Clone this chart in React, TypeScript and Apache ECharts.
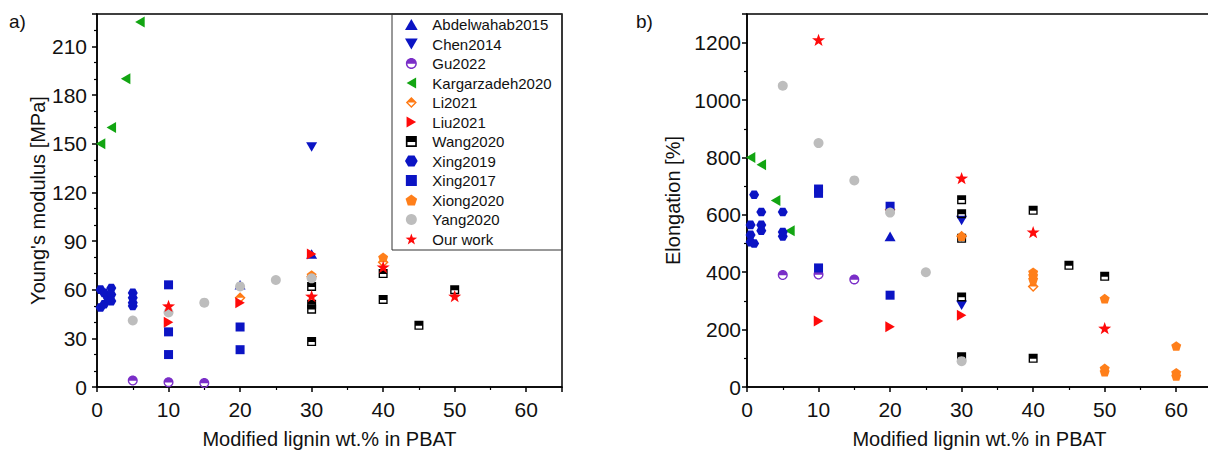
import React, { useEffect, useRef } from "react";
import * as echarts from "echarts";

// ---------- series names (legend order) ----------
const seriesNames = [
  "Abdelwahab2015",
  "Chen2014",
  "Gu2022",
  "Kargarzadeh2020",
  "Li2021",
  "Liu2021",
  "Wang2020",
  "Xing2019",
  "Xing2017",
  "Xiong2020",
  "Yang2020",
  "Our work",
];

// ---------- panel a) Young's modulus [MPa] ----------
const ymAbdelwahabX = [20, 30];
const ymAbdelwahabY = [63, 82];
const ymChenX = [30];
const ymChenY = [148];
const ymGuX = [5, 10, 15];
const ymGuY = [4, 3, 2.5];
const ymKargarzadehX = [0.5, 2, 4, 6];
const ymKargarzadehY = [150, 160, 190, 225];
const ymLiX = [20, 30, 40];
const ymLiY = [55, 68, 77];
const ymLiuX = [10, 20, 30];
const ymLiuY = [40, 52, 82];
const ymWangX = [30, 30, 30, 30, 40, 40, 45, 50];
const ymWangY = [62, 51, 48, 28, 70, 54, 38, 60];
const ymXing2019X = [0.5, 0.5, 1, 1, 1.5, 2, 2, 2, 5, 5, 5, 5];
const ymXing2019Y = [60, 49, 58, 51, 55, 61, 57, 53, 58, 55, 52, 50];
const ymXing2017X = [10, 10, 10, 20, 20];
const ymXing2017Y = [63, 34, 20, 37, 23];
const ymXiongX = [30, 40];
const ymXiongY = [69, 80];
const ymYangX = [5, 10, 15, 20, 25, 30];
const ymYangY = [41, 46, 52, 62, 66, 67];
const ymOursX = [10, 30, 40, 50];
const ymOursY = [50, 56, 74, 56];

// ---------- panel b) Elongation [%] ----------
const elAbdelwahabX = [20];
const elAbdelwahabY = [525];
const elChenX = [30, 30];
const elChenY = [580, 285];
const elGuX = [5, 10, 15];
const elGuY = [390, 392, 375];
const elKargarzadehX = [0.5, 2, 4, 6];
const elKargarzadehY = [800, 775, 650, 545];
const elLiX = [20, 30, 40];
const elLiY = [618, 525, 350];
const elLiuX = [10, 20, 30];
const elLiuY = [230, 210, 250];
const elWangX = [30, 30, 30, 30, 30, 40, 40, 45, 50];
const elWangY = [653, 604, 518, 314, 105, 616, 100, 424, 386];
const elXing2019X = [0.5, 0.5, 0.5, 1, 1, 2, 2, 2, 5, 5, 5];
const elXing2019Y = [565, 530, 505, 670, 500, 610, 565, 545, 610, 540, 525];
const elXing2017X = [10, 10, 10, 20, 20];
const elXing2017Y = [690, 675, 415, 630, 320];
const elXiongX = [30, 40, 40, 40, 50, 50, 50, 60, 60, 60];
const elXiongY = [525, 400, 388, 375, 308, 65, 53, 143, 50, 38];
const elYangX = [5, 10, 15, 20, 25, 30];
const elYangY = [1050, 850, 720, 608, 400, 90];
const elOursX = [10, 30, 40, 50];
const elOursY = [1210, 728, 540, 205];

// ---------- tick settings ----------
const xTickStep = 10;
const ymTickStep = 30;
const elTickStep = 200;

// ---------- symbols ----------
const SYM = {
  up: "path://M10 0 L20 17.32 L0 17.32 Z",
  down: "path://M0 0 L20 0 L10 17.32 Z",
  left: "path://M0 10 L17.32 0 L17.32 20 Z",
  right: "path://M0 0 L17.32 10 L0 20 Z",
  halfCircle:
    "path://M10 0 C15.52 0 20 4.48 20 10 C20 15.52 15.52 20 10 20 C4.48 20 0 15.52 0 10 C0 4.48 4.48 0 10 0 Z " +
    "M10 2.6 C5.91 2.6 2.6 5.91 2.6 10 C2.6 14.09 5.91 17.4 10 17.4 C14.09 17.4 17.4 14.09 17.4 10 C17.4 5.91 14.09 2.6 10 2.6 Z " +
    "M2.6 10.5 L2.6 10 C2.6 5.91 5.91 2.6 10 2.6 C14.09 2.6 17.4 5.91 17.4 10 L17.4 10.5 Z",
  halfSquare:
    "path://M0 0 L20 0 L20 20 L0 20 Z M3 3 L3 17 L17 17 L17 3 Z M3 3 L17 3 L17 11 L3 11 Z",
  halfDiamond:
    "path://M10 0 L20 10 L10 20 L0 10 Z M10 3.6 L3.6 10 L10 16.4 L16.4 10 Z M3.6 10 L10 3.6 L16.4 10 Z",
  hexagon: "path://M5 0 L15 0 L20 8.66 L15 17.32 L5 17.32 L0 8.66 Z",
  square: "path://M0 0 L20 0 L20 20 L0 20 Z",
  pentagon: "path://M10 0 L19.51 6.91 L15.88 18.09 L4.12 18.09 L0.49 6.91 Z",
  circle: "circle",
  star:
    "path://M10 0 L12.35 6.76 L19.51 6.91 L13.8 11.24 L15.88 18.09 L10 14 L4.12 18.09 L6.2 11.24 L0.49 6.91 L7.65 6.76 Z",
};

const BLUE = "#0b14c4";
const styles: Record<string, { symbol: string; size: number; color: string }> = {
  Abdelwahab2015: { symbol: SYM.up, size: 11, color: BLUE },
  Chen2014: { symbol: SYM.down, size: 11, color: BLUE },
  Gu2022: { symbol: SYM.halfCircle, size: 10, color: "#7a2ec8" },
  Kargarzadeh2020: { symbol: SYM.left, size: 11, color: "#12a512" },
  Li2021: { symbol: SYM.halfDiamond, size: 11, color: "#ff7a14" },
  Liu2021: { symbol: SYM.right, size: 11, color: "#ff0a0a" },
  Wang2020: { symbol: SYM.halfSquare, size: 9, color: "#000000" },
  Xing2019: { symbol: SYM.hexagon, size: 10, color: BLUE },
  Xing2017: { symbol: SYM.square, size: 9, color: BLUE },
  Xiong2020: { symbol: SYM.pentagon, size: 10, color: "#ff7f1a" },
  Yang2020: { symbol: SYM.circle, size: 10, color: "#bdbdbd" },
  "Our work": { symbol: SYM.star, size: 13, color: "#ff0a0a" },
};

const ymData: Record<string, [number[], number[]]> = {
  Abdelwahab2015: [ymAbdelwahabX, ymAbdelwahabY],
  Chen2014: [ymChenX, ymChenY],
  Gu2022: [ymGuX, ymGuY],
  Kargarzadeh2020: [ymKargarzadehX, ymKargarzadehY],
  Li2021: [ymLiX, ymLiY],
  Liu2021: [ymLiuX, ymLiuY],
  Wang2020: [ymWangX, ymWangY],
  Xing2019: [ymXing2019X, ymXing2019Y],
  Xing2017: [ymXing2017X, ymXing2017Y],
  Xiong2020: [ymXiongX, ymXiongY],
  Yang2020: [ymYangX, ymYangY],
  "Our work": [ymOursX, ymOursY],
};

const elData: Record<string, [number[], number[]]> = {
  Abdelwahab2015: [elAbdelwahabX, elAbdelwahabY],
  Chen2014: [elChenX, elChenY],
  Gu2022: [elGuX, elGuY],
  Kargarzadeh2020: [elKargarzadehX, elKargarzadehY],
  Li2021: [elLiX, elLiY],
  Liu2021: [elLiuX, elLiuY],
  Wang2020: [elWangX, elWangY],
  Xing2019: [elXing2019X, elXing2019Y],
  Xing2017: [elXing2017X, elXing2017Y],
  Xiong2020: [elXiongX, elXiongY],
  Yang2020: [elYangX, elYangY],
  "Our work": [elOursX, elOursY],
};

const FONT = "'Liberation Sans', Arial, sans-serif";
const TXT = "#111111";

function zip(xs: number[], ys: number[]) {
  return xs.map((x, i) => [x, ys[i]]);
}

const plainNum = (v: number) => String(v);

function makeXAxis(gridIndex: number) {
  return {
    gridIndex,
    type: "value",
    min: 0,
    max: 65,
    interval: xTickStep,
    name: "Modified lignin wt.% in PBAT",
    nameLocation: "middle",
    nameGap: 42,
    nameTextStyle: { fontSize: 20, color: TXT, fontFamily: FONT },
    axisLine: { show: true, onZero: false, lineStyle: { color: "#000", width: 1.5 } },
    axisTick: { show: true, inside: false, length: 5, lineStyle: { color: "#000", width: 1.5 } },
    minorTick: { show: true, splitNumber: 2, length: 3, lineStyle: { color: "#000", width: 1.2 } },
    splitLine: { show: false },
    axisLabel: {
      fontSize: 21,
      color: TXT,
      fontFamily: FONT,
      margin: 12,
      showMaxLabel: false,
      formatter: plainNum,
    },
  };
}

function makeYAxis(
  gridIndex: number,
  max: number,
  interval: number,
  minorSplit: number,
  name: string,
  nameGap: number,
  margin: number
) {
  return {
    gridIndex,
    type: "value",
    min: 0,
    max,
    interval,
    name,
    nameLocation: "middle",
    nameGap,
    nameTextStyle: { fontSize: 20, color: TXT, fontFamily: FONT },
    axisLine: { show: true, onZero: false, lineStyle: { color: "#000", width: 1.5 } },
    axisTick: { show: true, inside: false, length: 5, lineStyle: { color: "#000", width: 1.5 } },
    minorTick: { show: true, splitNumber: minorSplit, length: 3, lineStyle: { color: "#000", width: 1.2 } },
    splitLine: { show: false },
    axisLabel: {
      fontSize: 21,
      color: TXT,
      fontFamily: FONT,
      margin,
      showMaxLabel: false,
      formatter: plainNum,
    },
  };
}

export default function App() {
  const ref = useRef<HTMLDivElement>(null);

  useEffect(() => {
    if (!ref.current) return;
    const chart = echarts.init(ref.current, null, { renderer: "svg" });

    const series: any[] = [];
    seriesNames.forEach((name) => {
      const st = styles[name];
      [ymData, elData].forEach((src, idx) => {
        const [xs, ys] = src[name];
        series.push({
          type: "scatter",
          name,
          xAxisIndex: idx,
          yAxisIndex: idx,
          symbol: st.symbol,
          symbolSize: st.size,
          symbolKeepAspect: true,
          itemStyle: { color: st.color, opacity: 1 },
          emphasis: { disabled: true },
          data: zip(xs, ys),
        });
      });
    });

    const option: any = {
      animation: false,
      backgroundColor: "#ffffff",
      textStyle: { fontFamily: FONT },
      grid: [
        {
          left: 97,
          top: 14,
          right: 1208 - 562,
          bottom: 455 - 387,
          show: true,
          borderColor: "#000",
          borderWidth: 1.5,
          containLabel: false,
          outerBoundsMode: "none",
        },
        {
          left: 747,
          top: 14,
          right: -4,
          bottom: 455 - 387,
          show: true,
          borderColor: "#000",
          borderWidth: 1.5,
          containLabel: false,
          outerBoundsMode: "none",
        },
      ],
      xAxis: [makeXAxis(0), makeXAxis(1)],
      yAxis: [
        makeYAxis(0, 230, ymTickStep, 3, "Young's modulus [MPa]", 49, 10),
        makeYAxis(1, 1300, elTickStep, 2, "Elongation [%]", 64, 6),
      ],
      legend: {
        show: true,
        orient: "vertical",
        left: 405,
        top: 17,
        padding: 0,
        itemWidth: 32,
        itemHeight: 11,
        itemGap: 4.5,
        selectedMode: false,
        data: seriesNames,
        textStyle: { fontSize: 15, lineHeight: 15, color: TXT, fontFamily: FONT },
      },
      graphic: [
        {
          type: "rect",
          shape: { x: 392, y: 14, width: 170, height: 236 },
          style: { fill: "none", stroke: "#333", lineWidth: 1 },
          silent: true,
          z: 10,
        },
        {
          type: "text",
          left: 9,
          top: 12,
          style: { text: "a)", fontSize: 19, fill: TXT, fontFamily: FONT },
        },
        {
          type: "text",
          left: 636,
          top: 12,
          style: { text: "b)", fontSize: 19, fill: TXT, fontFamily: FONT },
        },
      ],
      series,
    };

    chart.setOption(option);
    return () => chart.dispose();
  }, []);

  return (
    <div
      ref={ref}
      style={{ position: "fixed", left: 0, top: 0, width: 1208, height: 455, background: "#fff" }}
    />
  );
}
